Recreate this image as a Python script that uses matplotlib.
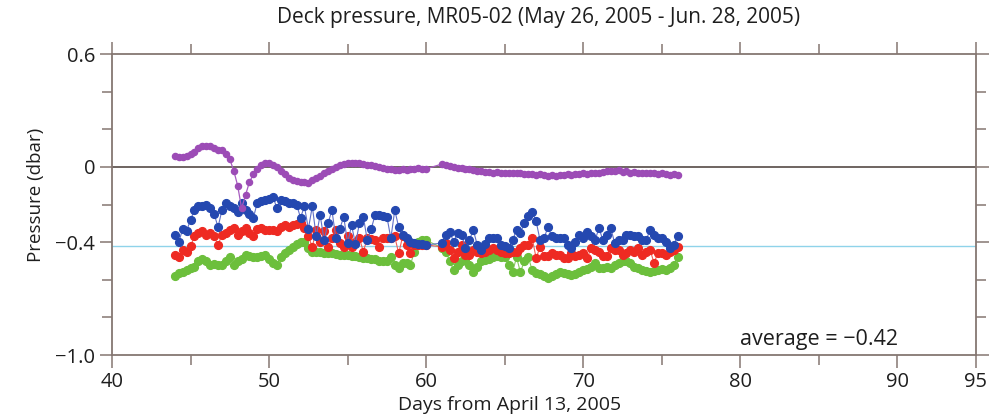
import numpy as np
import matplotlib
matplotlib.use("Agg")
import matplotlib.pyplot as plt
from matplotlib.ticker import FixedLocator

# Sampling times (days from April 13, 2005); gap in record between day 60 and 61
days_seg1 = np.arange(44.0, 60.0 + 1e-9, 0.25)
days_seg2 = np.arange(61.0, 76.0 + 1e-9, 0.25)
days = np.concatenate([days_seg1, days_seg2])

purple = [
    0.06, 0.05, 0.05, 0.06, 0.07, 0.08, 0.10, 0.11, 0.11, 0.11, 0.10, 0.09,
    0.09, 0.07, 0.04, -0.02, -0.10, -0.22, -0.15, -0.08, -0.04, -0.01, 0.01, 0.02,
    0.02, 0.01, 0.00, -0.02, -0.04, -0.06, -0.07, -0.075, -0.08, -0.08, -0.085, -0.07,
    -0.06, -0.05, -0.035, -0.02, -0.01, 0.00, 0.01, 0.015, 0.02, 0.02, 0.02, 0.02,
    0.015, 0.01, 0.01, 0.005, 0.0, -0.005, -0.01, -0.01, -0.015, -0.015, -0.01, -0.015,
    -0.01, -0.01, -0.005, -0.01, -0.01,
    0.015, 0.01, 0.005, 0.0, -0.005, -0.005, -0.01, -0.01, -0.015, -0.02, -0.02, -0.025,
    -0.025, -0.03, -0.025, -0.03, -0.03, -0.035, -0.03, -0.035, -0.035, -0.04, -0.04, -0.04,
    -0.045, -0.04, -0.045, -0.05, -0.045, -0.05, -0.045, -0.045, -0.04, -0.045, -0.04, -0.04,
    -0.035, -0.04, -0.035, -0.03, -0.03, -0.025, -0.02, -0.02, -0.02, -0.015, -0.025, -0.02,
    -0.03, -0.025, -0.03, -0.035, -0.03, -0.035, -0.03, -0.04, -0.035, -0.04, -0.045, -0.04,
    -0.045,
]

blue = [
    -0.36, -0.40, -0.33, -0.34, -0.28, -0.23, -0.21, -0.21, -0.20, -0.22, -0.25, -0.32,
    -0.23, -0.19, -0.21, -0.22, -0.24, -0.19, -0.23, -0.25, -0.27, -0.19, -0.18, -0.175,
    -0.17, -0.16, -0.22, -0.175, -0.18, -0.19, -0.19, -0.20, -0.27, -0.21, -0.33, -0.21,
    -0.37, -0.255, -0.39, -0.30, -0.23, -0.38, -0.33, -0.265, -0.405, -0.31, -0.41, -0.30,
    -0.265, -0.39, -0.33, -0.255, -0.255, -0.26, -0.265, -0.38, -0.23, -0.32, -0.36, -0.38,
    -0.40, -0.405, -0.41, -0.41, -0.415,
    -0.405, -0.36, -0.345, -0.40, -0.35, -0.36, -0.43, -0.39, -0.335, -0.415, -0.44, -0.41,
    -0.38, -0.38, -0.38, -0.415, -0.42, -0.43, -0.39, -0.335, -0.35, -0.30, -0.26, -0.24,
    -0.29, -0.39, -0.38, -0.32, -0.37, -0.38, -0.38, -0.38, -0.415, -0.43, -0.40, -0.36,
    -0.38, -0.345, -0.37, -0.39, -0.325, -0.39, -0.36, -0.325, -0.405, -0.39, -0.39, -0.36,
    -0.36, -0.37, -0.37, -0.39, -0.39, -0.335, -0.36, -0.38, -0.38, -0.40, -0.43, -0.415,
    -0.37,
]

red = [
    -0.47, -0.48, -0.44, -0.45, -0.42, -0.37, -0.35, -0.34, -0.36, -0.35, -0.37, -0.415,
    -0.36, -0.35, -0.335, -0.325, -0.36, -0.34, -0.325, -0.35, -0.37, -0.33, -0.325, -0.335,
    -0.335, -0.335, -0.34, -0.32, -0.31, -0.32, -0.31, -0.305, -0.30, -0.325, -0.37, -0.425,
    -0.335, -0.40, -0.34, -0.425, -0.38, -0.335, -0.405, -0.425, -0.37, -0.425, -0.40, -0.38,
    -0.45, -0.38, -0.385, -0.39, -0.425, -0.38, -0.38, -0.38, -0.37, -0.46, -0.37, -0.415,
    -0.46, -0.415, -0.415, -0.415, -0.415,
    -0.425, -0.405, -0.44, -0.485, -0.45, -0.415, -0.47, -0.47, -0.44, -0.45, -0.46, -0.45,
    -0.44, -0.43, -0.44, -0.45, -0.46, -0.46, -0.455, -0.45, -0.43, -0.415, -0.415, -0.38,
    -0.485, -0.425, -0.475, -0.475, -0.46, -0.47, -0.47, -0.485, -0.485, -0.46, -0.475, -0.47,
    -0.46, -0.485, -0.43, -0.44, -0.45, -0.475, -0.475, -0.43, -0.44, -0.44, -0.47, -0.46,
    -0.44, -0.45, -0.43, -0.47, -0.45, -0.44, -0.51, -0.46, -0.46, -0.47, -0.45, -0.44,
    -0.425,
]

green = [
    -0.58, -0.565, -0.56, -0.55, -0.54, -0.53, -0.50, -0.49, -0.50, -0.52, -0.515, -0.52,
    -0.52, -0.50, -0.48, -0.52, -0.50, -0.49, -0.47, -0.475, -0.48, -0.48, -0.475, -0.47,
    -0.49, -0.51, -0.52, -0.48, -0.46, -0.44, -0.425, -0.41, -0.40, -0.40, -0.43, -0.45,
    -0.45, -0.455, -0.46, -0.46, -0.46, -0.465, -0.47, -0.47, -0.47, -0.475, -0.475, -0.48,
    -0.485, -0.485, -0.49, -0.49, -0.50, -0.50, -0.50, -0.48, -0.52, -0.54, -0.51, -0.51,
    -0.52, -0.45, -0.40, -0.39, -0.39,
    -0.43, -0.45, -0.50, -0.55, -0.52, -0.50, -0.49, -0.52, -0.56, -0.53, -0.50, -0.495,
    -0.49, -0.48, -0.475, -0.48, -0.48, -0.52, -0.56, -0.48, -0.56, -0.50, -0.48, -0.55,
    -0.565, -0.57, -0.58, -0.59, -0.58, -0.57, -0.56, -0.565, -0.57, -0.575, -0.57, -0.56,
    -0.55, -0.545, -0.53, -0.51, -0.535, -0.54, -0.53, -0.535, -0.52, -0.51, -0.50, -0.50,
    -0.51, -0.53, -0.54, -0.55, -0.555, -0.56, -0.555, -0.55, -0.545, -0.55, -0.54, -0.52,
    -0.48,
]

average = -0.42

x_major = [40, 50, 60, 70, 80, 90, 95]
x_minor = [45, 55, 65, 75, 85]
y_major = [0.6, 0.0, -0.4, -1.0]
y_major_labels = ["0.6", "0", "\u22120.4", "\u22121.0"]
y_minor = [0.4, 0.2, -0.2, -0.6, -0.8]

plt.rcParams["font.family"] = ["Open Sans", "DejaVu Sans"]

axis_col = "#857772"
text_col = "#1e1e1e"

fig = plt.figure(figsize=(10, 4.19), dpi=100)
ax = fig.add_axes([0.112, 0.1527, 0.864, 0.7184])

ax.axhline(0.0, color="#6e6460", lw=1.4, zorder=1)
ax.axhline(average, color="#8fd3ea", lw=1.0, zorder=1)

ax.plot(days, green, color="#86c860", lw=0.8, marker="o", ms=5.6,
        mfc="#6cbf3c", mec="#6cbf3c", zorder=3)
ax.plot(days, red, color="#f06058", lw=0.8, marker="o", ms=5.6,
        mfc="#ee2a22", mec="#ee2a22", zorder=4)
ax.plot(days, blue, color="#6070c8", lw=0.8, marker="o", ms=5.6,
        mfc="#2448b0", mec="#2448b0", zorder=5)
ax.plot(days, purple, color="#a75cc0", lw=0.9, marker="o", ms=4.4,
        mfc="#9c4cb6", mec="#9c4cb6", zorder=6)

ax.set_xlim(40, 95)
ax.set_ylim(-1.0, 0.6)

for sp in ax.spines.values():
    sp.set_color(axis_col)
    sp.set_linewidth(1.3)

ax.xaxis.set_major_locator(FixedLocator(x_major))
ax.xaxis.set_minor_locator(FixedLocator(x_minor))
ax.set_xticklabels([str(v) for v in x_major])
ax.yaxis.set_major_locator(FixedLocator(y_major))
ax.yaxis.set_minor_locator(FixedLocator(y_minor))
ax.set_yticklabels(y_major_labels)

ax.tick_params(which="both", direction="out", color=axis_col, width=1.1,
               top=True, right=True, labeltop=False, labelright=False,
               labelsize=14.5, labelcolor=text_col)
ax.tick_params(which="major", length=9, pad=3)
ax.tick_params(which="minor", length=7)

fig.text(0.539, 0.958, "Deck pressure, MR05-02 (May 26, 2005 - Jun. 28, 2005)",
         ha="center", va="center", fontsize=15, color=text_col)
fig.text(0.51, 0.033, "Days from April 13, 2005", ha="center", va="center",
         fontsize=14, color=text_col)
fig.text(0.036, 0.535, "Pressure (dbar)", ha="center", va="center",
         rotation=90, fontsize=13.5, color=text_col)
ax.text(80.0, -0.92, "average = \u22120.42", ha="left", va="center",
        fontsize=15.5, color=text_col)

fig.savefig("out.png", dpi=100)
